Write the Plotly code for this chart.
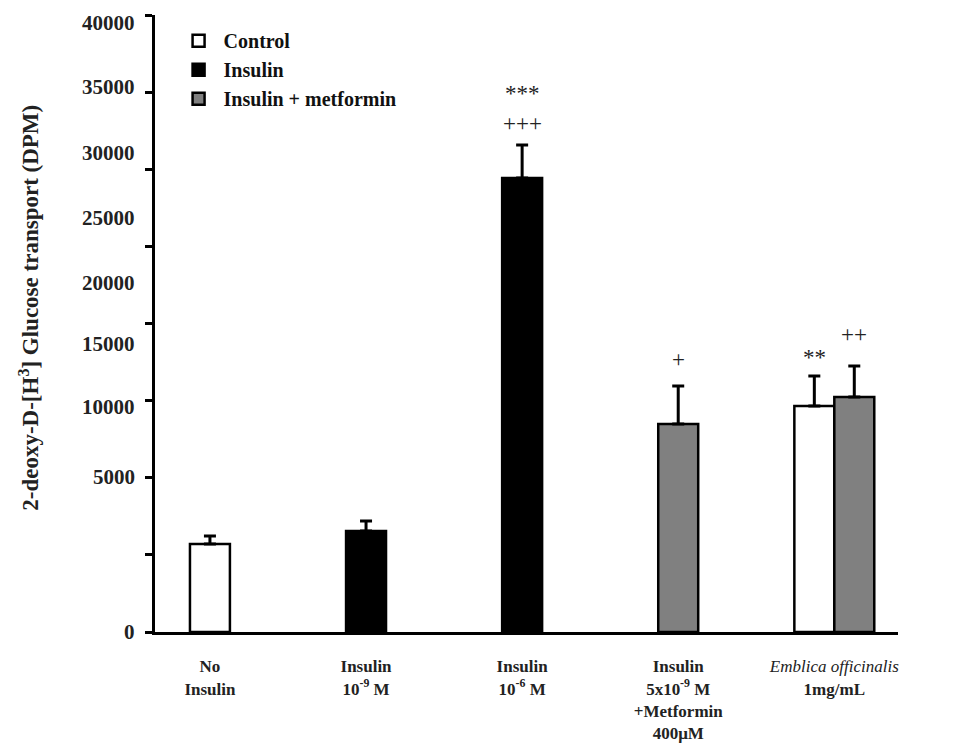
import plotly.graph_objects as go

# ---------------- data ----------------
categories = [
    "<b>No<br>Insulin</b>",
    "<b>Insulin<br>10<sup>-9</sup> M</b>",
    "<b>Insulin<br>10<sup>-6</sup> M</b>",
    "<b>Insulin<br>5x10<sup>-9</sup> M<br>+Metformin<br>400μM</b>",
    "<i>Emblica officinalis</i><br><b>1mg/mL</b>",
]
cat_index = [0, 1, 2, 3, 4]

control_x = [0, 4]
control_vals = [5700, 14650]
control_err = [520, 1950]

insulin_x = [1, 2]
insulin_vals = [6550, 29430]
insulin_err = [650, 2140]

metformin_x = [3, 4]
metformin_vals = [13490, 15240]
metformin_err = [2460, 2010]

ytick_vals = [0, 5000, 10000, 15000, 20000, 25000, 30000, 35000, 40000]
ytick_labels = ["0", "5000", "10000", "15000", "20000", "25000", "30000", "35000", "40000"]
# where the reference prints its (slightly drifting) tick labels, in axis units
ytick_label_pos = [0, 10050, 14590, 18670, 22630, 26840, 31050, 35330, 39480]

# ---------------- style ----------------
FONT = "Liberation Serif"
W = 0.256  # bar width in category units
LW = 2.5

def offsets(xs, shared_side):
    out = []
    for x in xs:
        if x == 4:
            out.append(-W if shared_side == "left" else 0)
        else:
            out.append(-W / 2)
    return out

def bar(name, xs, vals, errs, color, side):
    return go.Bar(
        name=name, x=xs, y=vals, width=W, offset=offsets(xs, side),
        marker=dict(color=color, line=dict(color="black", width=LW)),
        error_y=dict(type="data", array=errs, arrayminus=[0] * len(errs),
                     symmetric=False, color="black", thickness=3, width=6),
    )

fig = go.Figure()
fig.add_trace(bar("Control", control_x, control_vals, control_err, "white", "left"))
fig.add_trace(bar("Insulin", insulin_x, insulin_vals, insulin_err, "black", "left"))
fig.add_trace(bar("Insulin + metformin", metformin_x, metformin_vals, metformin_err, "#808080", "right"))

# significance marks
def top(vals, errs, i):
    return vals[i] + errs[i]

sig = [
    (2, top(insulin_vals, insulin_err, 1), "***", 52),
    (2, top(insulin_vals, insulin_err, 1), "+++", 22),
    (3, top(metformin_vals, metformin_err, 0), "+", 26),
    (4 - W / 2, top(control_vals, control_err, 1), "**", 18),
    (4 + W / 2, top(metformin_vals, metformin_err, 1), "++", 31),
]
annotations = []
for x, y, t, shift in sig:
    annotations.append(dict(x=x, y=y, xref="x", yref="y", text=t, showarrow=False,
                            yshift=shift, font=dict(family=FONT, size=23, color="#222")))

for pos, lab in zip(ytick_label_pos, ytick_labels):
    annotations.append(dict(x=0, y=pos, xref="paper", yref="y", text="<b>%s</b>" % lab,
                            showarrow=False, xanchor="right", xshift=-18,
                            font=dict(family=FONT, size=21, color="#222")))

annotations.append(dict(x=-0.17, y=0.525, xref="paper", yref="paper",
                        xanchor="center", yanchor="middle",
                        text="<b>2-deoxy-D-[H<sup>3</sup>] Glucose transport (DPM)</b>",
                        textangle=-90, showarrow=False,
                        font=dict(family=FONT, size=23, color="#222")))

# the page has an 8px body margin, so the figure is sized/margined to compensate
fig.update_layout(
    width=956, height=740,
    margin=dict(l=147, r=66, t=7, b=116),
    plot_bgcolor="white", paper_bgcolor="white",
    barmode="overlay",
    font=dict(family=FONT, color="#222"),
    showlegend=True,
    legend=dict(x=0.025, y=0.99, xanchor="left", yanchor="top",
                font=dict(family=FONT, size=20, color="#111", weight="bold"),
                bgcolor="rgba(0,0,0,0)", itemwidth=40, tracegroupgap=6),
    annotations=annotations,
)
fig.update_xaxes(
    range=[-0.352, 4.408], tickmode="array", tickvals=cat_index, ticktext=categories,
    showline=True, linecolor="black", linewidth=3, ticks="", showgrid=False,
    zeroline=False, tickfont=dict(family=FONT, size=17, color="#222"),
    ticklabelstandoff=17, automargin=False,
)
fig.update_yaxes(
    range=[0, 40000], tickmode="array", tickvals=ytick_vals, showticklabels=False,
    showline=True, linecolor="black", linewidth=3, ticks="outside", ticklen=7,
    tickwidth=3, tickcolor="black", showgrid=False, zeroline=False, automargin=False,
)

fig.write_html("out.html")
